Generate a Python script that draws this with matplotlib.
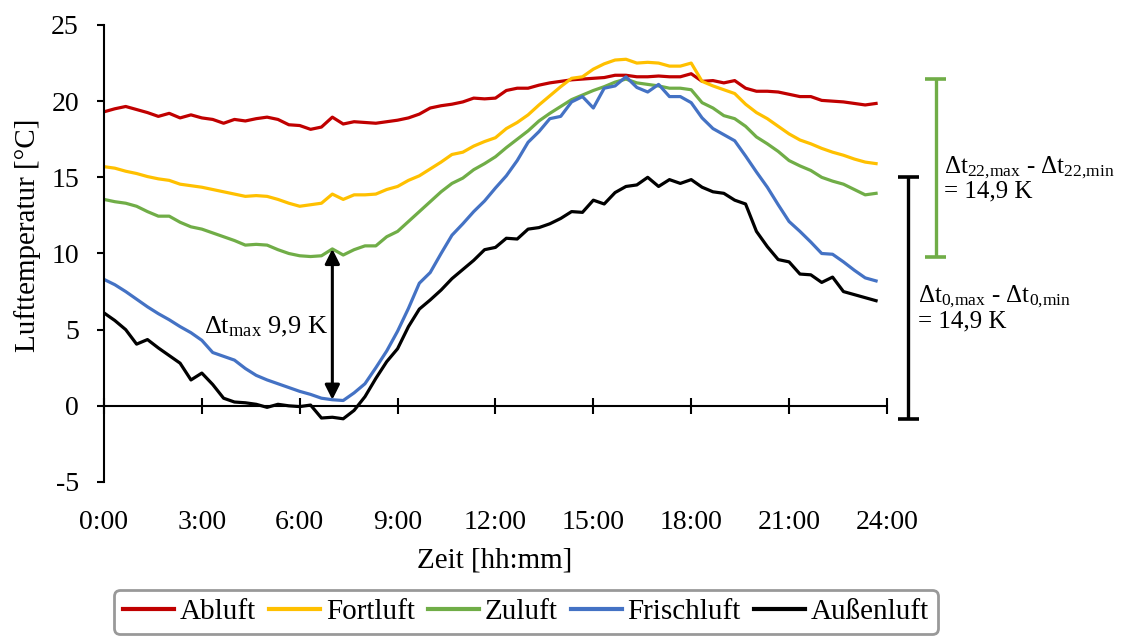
import numpy as np
import matplotlib
matplotlib.use("Agg")
import matplotlib.pyplot as plt

plt.rcParams['font.family'] = ['Liberation Serif', 'DejaVu Serif']
plt.rcParams['mathtext.fontset'] = 'custom'
plt.rcParams['mathtext.rm'] = 'Liberation Serif'
plt.rcParams['mathtext.it'] = 'Liberation Serif:italic'
plt.rcParams['axes.unicode_minus'] = False

# Measurement times: every 20 minutes from 0:00 to 23:40 (in hours)
STEP_MIN = 20
hours = np.arange(72) * STEP_MIN / 60

abluft = [19.3, 19.5, 19.65, 19.45, 19.25, 19.0, 19.2, 18.9, 19.1, 18.9, 18.8, 18.55,
          18.8, 18.7, 18.85, 18.95, 18.8, 18.45, 18.4, 18.15, 18.3, 18.95, 18.5, 18.65,
          18.6, 18.55, 18.65, 18.75, 18.9, 19.15, 19.55, 19.7, 19.8, 19.95, 20.2, 20.15,
          20.2, 20.7, 20.85, 20.85, 21.05, 21.2, 21.3, 21.4, 21.45, 21.5, 21.55, 21.7,
          21.7, 21.6, 21.6, 21.65, 21.6, 21.6, 21.8, 21.3, 21.35, 21.2, 21.35, 20.85,
          20.65, 20.65, 20.6, 20.45, 20.3, 20.3, 20.05, 20.0, 19.95, 19.85, 19.75, 19.85]

fortluft = [15.7, 15.6, 15.4, 15.25, 15.05, 14.9, 14.8, 14.55, 14.45, 14.35, 14.2, 14.05,
            13.9, 13.75, 13.8, 13.75, 13.55, 13.3, 13.1, 13.2, 13.3, 13.9, 13.55, 13.85,
            13.85, 13.9, 14.2, 14.4, 14.8, 15.1, 15.55, 16.0, 16.5, 16.65, 17.05, 17.35,
            17.6, 18.2, 18.6, 19.1, 19.75, 20.35, 20.95, 21.5, 21.6, 22.1, 22.45, 22.7,
            22.75, 22.5, 22.55, 22.5, 22.3, 22.3, 22.5, 21.3, 21.0, 20.75, 20.5, 19.8,
            19.25, 18.85, 18.35, 17.85, 17.45, 17.2, 16.9, 16.65, 16.45, 16.2, 16.0, 15.9]

zuluft = [13.55, 13.4, 13.3, 13.1, 12.75, 12.45, 12.45, 12.05, 11.75, 11.6, 11.35, 11.1,
          10.85, 10.55, 10.6, 10.55, 10.25, 10.0, 9.85, 9.8, 9.85, 10.3, 9.9, 10.25,
          10.5, 10.5, 11.1, 11.45, 12.1, 12.75, 13.4, 14.05, 14.6, 14.95, 15.5, 15.9,
          16.35, 16.95, 17.5, 18.05, 18.7, 19.2, 19.65, 20.1, 20.4, 20.7, 20.95, 21.25,
          21.45, 21.2, 21.1, 21.0, 20.85, 20.85, 20.75, 19.9, 19.55, 19.05, 18.85, 18.35,
          17.65, 17.2, 16.7, 16.1, 15.75, 15.45, 15.0, 14.75, 14.55, 14.2, 13.85, 13.95]

frischluft = [8.3, 7.95, 7.5, 7.0, 6.5, 6.05, 5.65, 5.2, 4.8, 4.3, 3.5, 3.25,
              3.0, 2.45, 2.0, 1.7, 1.45, 1.2, 0.95, 0.75, 0.5, 0.4, 0.35, 0.85,
              1.45, 2.5, 3.6, 4.9, 6.4, 8.05, 8.75, 10.0, 11.2, 11.95, 12.75, 13.45,
              14.3, 15.1, 16.1, 17.3, 18.0, 18.85, 19.0, 19.95, 20.3, 19.55, 20.85, 21.0,
              21.6, 20.9, 20.6, 21.1, 20.3, 20.3, 19.9, 18.9, 18.2, 17.8, 17.4, 16.4,
              15.35, 14.35, 13.2, 12.1, 11.45, 10.75, 10.0, 9.95, 9.45, 8.9, 8.4, 8.2]

aussenluft = [6.1, 5.6, 5.0, 4.05, 4.35, 3.8, 3.3, 2.8, 1.7, 2.15, 1.4, 0.5,
              0.25, 0.2, 0.1, -0.1, 0.1, 0.0, -0.05, 0.05, -0.8, -0.75, -0.85, -0.3,
              0.6, 1.8, 2.9, 3.75, 5.2, 6.35, 6.95, 7.6, 8.35, 8.95, 9.55, 10.25,
              10.4, 11.0, 10.95, 11.6, 11.7, 11.95, 12.3, 12.75, 12.7, 13.5, 13.25, 14.0,
              14.4, 14.5, 15.0, 14.4, 14.85, 14.6, 14.85, 14.35, 14.05, 13.95, 13.5, 13.25,
              11.45, 10.45, 9.6, 9.45, 8.65, 8.6, 8.1, 8.45, 7.5, 7.3, 7.1, 6.9]

series_names = ['Abluft', 'Fortluft', 'Zuluft', 'Frischluft', 'Außenluft']
series_colors = ['#C00000', '#FFC000', '#70AD47', '#4472C4', '#000000']

tick_hours = [0, 3, 6, 9, 12, 15, 18, 21, 24]
tick_labels = ['0:00', '3:00', '6:00', '9:00', '12:00', '15:00', '18:00', '21:00', '24:00']
y_ticks = [-5, 0, 5, 10, 15, 20, 25]

fig = plt.figure(figsize=(11.24, 6.39), dpi=100)
ax = fig.add_axes([0.0925, 0.2457, 0.6966, 0.7152])

all_series = [abluft, fortluft, zuluft, frischluft, aussenluft]
for name, vals, color in zip(series_names, all_series, series_colors):
    ax.plot(hours, vals, color=color, lw=2.3, label=name, solid_joinstyle='round')

ax.set_xlim(0, 24)
ax.set_ylim(-5, 25)
for s in ('top', 'right'):
    ax.spines[s].set_visible(False)
ax.spines['left'].set_position(('data', 0))
ax.spines['bottom'].set_position(('data', 0))
for s in ('left', 'bottom'):
    ax.spines[s].set_linewidth(1.5)

ax.set_xticks(tick_hours)
ax.set_xticklabels(tick_labels)
ax.set_yticks(y_ticks)
ax.tick_params(axis='x', direction='inout', length=11.5, width=1.5, pad=69, labelsize=20)
ax.tick_params(axis='y', direction='out', length=5, width=1.5, pad=13, labelsize=20)

fig.text(28 / 1124, 1 - 235 / 639, 'Lufttemperatur [°C]', rotation=90,
         ha='center', va='center', fontsize=21)
fig.text(495 / 1124, 1 - 560 / 639, 'Zeit [hh:mm]', ha='center', va='center', fontsize=21)

# Temperature rise across the heat exchanger at 7:00
i7 = 21
ax.annotate('', xy=(hours[i7], frischluft[i7]), xytext=(hours[i7], zuluft[i7]),
            arrowprops=dict(arrowstyle='<|-|>', color='black', lw=2.2,
                            mutation_scale=22, shrinkA=0, shrinkB=0))
ax.text(6.87, 5.2, 'Δt$_{\\mathrm{max}}$ 9,9 K', ha='right', va='center', fontsize=19)

# Daily span bars for supply air and outside air
def span_bar(x, lo, hi, color):
    ax.vlines(x, lo, hi, color=color, lw=2.4, clip_on=False)
    ax.hlines([lo, hi], x - 0.33, x + 0.33, color=color, lw=2.6, clip_on=False)

span_bar(25.49, min(zuluft), max(zuluft), '#70AD47')
span_bar(24.66, min(aussenluft), max(aussenluft), '#000000')

ax.text(25.74, 15.3, 'Δt$_{\\mathrm{22{,}max}}$ - Δt$_{\\mathrm{22{,}min}}$',
        ha='left', va='baseline', fontsize=18)
ax.text(25.74, 13.65, '= 14,9 K', ha='left', va='baseline', fontsize=18)
ax.text(24.94, 6.8, 'Δt$_{\\mathrm{0{,}max}}$ - Δt$_{\\mathrm{0{,}min}}$',
        ha='left', va='baseline', fontsize=18)
ax.text(24.94, 5.15, '= 14,9 K', ha='left', va='baseline', fontsize=18)

leg = fig.legend(loc='upper center', bbox_to_anchor=(526 / 1124, 1 - 590 / 639),
                 ncol=5, fontsize=21, handlelength=1.75, handletextpad=0.2,
                 columnspacing=0.45, borderpad=0.3, borderaxespad=0,
                 frameon=True, fancybox=True)
leg.get_frame().set_edgecolor('#808080')
leg.get_frame().set_linewidth(2)
for line in leg.get_lines():
    line.set_linewidth(3)

fig.savefig('out.png', dpi=100)
